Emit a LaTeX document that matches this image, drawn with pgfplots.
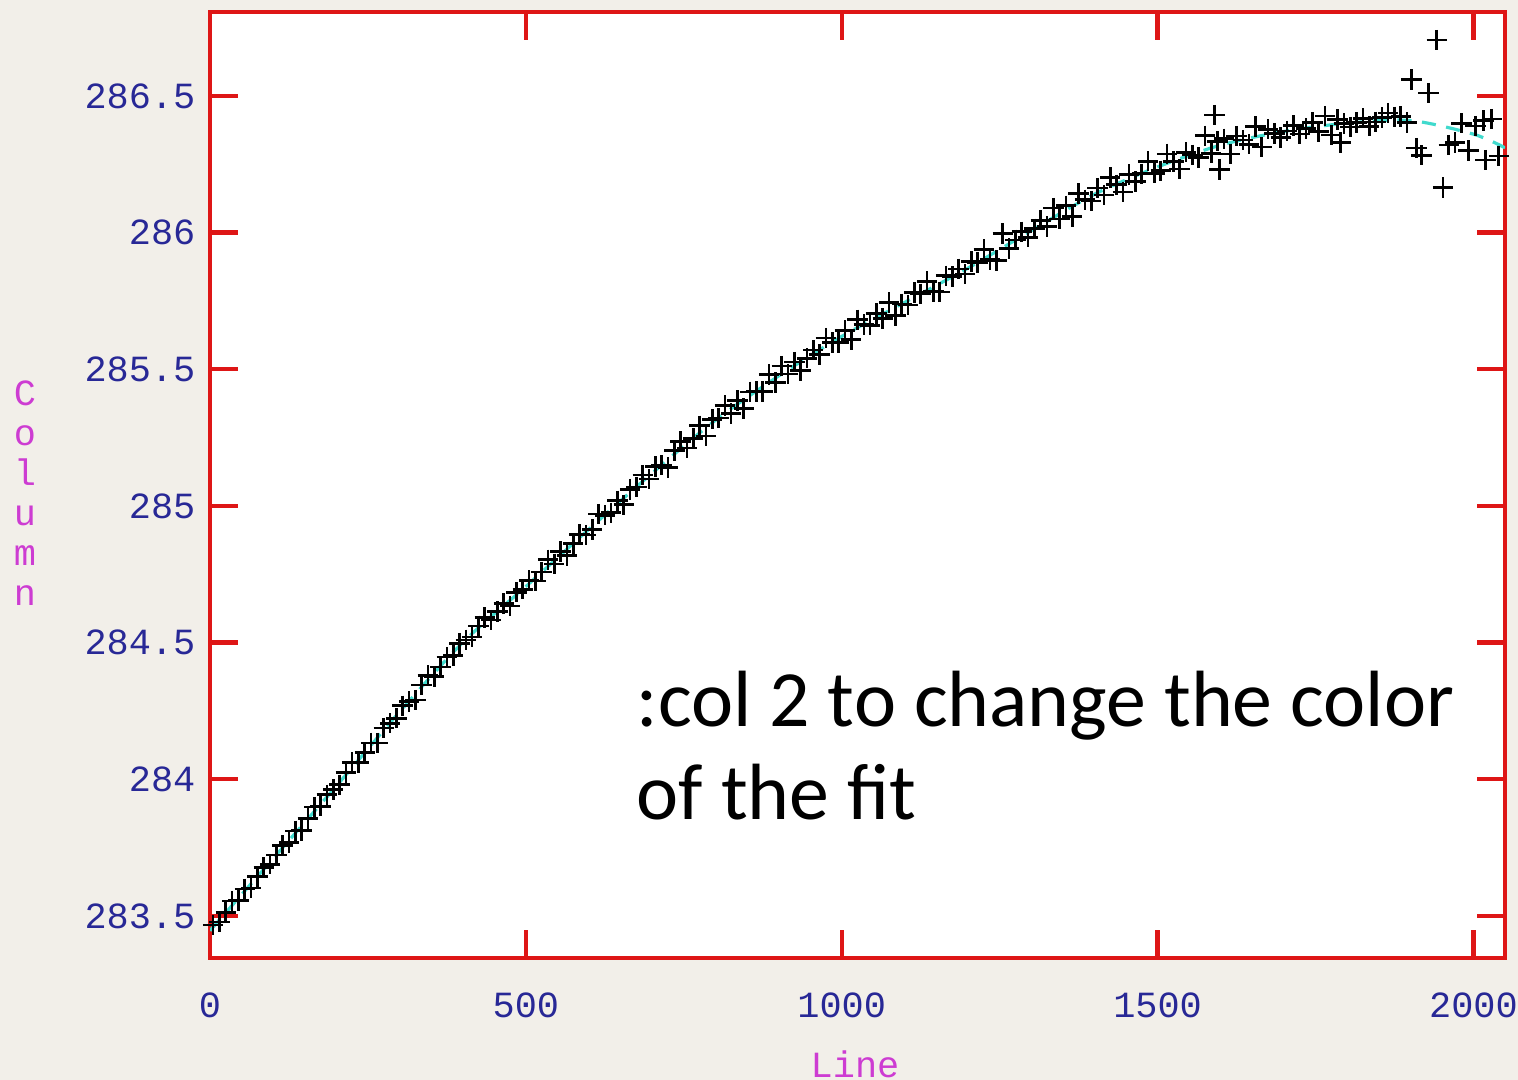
\documentclass[border=0pt]{standalone}
\usepackage{fontspec}
\usepackage{pgfplots}
\pgfplotsset{compat=1.18}
\newfontfamily\irafmono{Liberation Mono}
\newfontfamily\calib{Carlito}
\definecolor{bgc}{RGB}{242,239,233}
\definecolor{iraf red}{RGB}{222,22,22}
\definecolor{iraf blue}{RGB}{40,40,150}
\definecolor{iraf mag}{RGB}{205,60,210}
\definecolor{fitc}{RGB}{64,218,205}
\begin{document}
\begin{tikzpicture}[x=1cm,y=1cm]
\fill[bgc] (0,0) rectangle (15.18,10.80);
\useasboundingbox (0,0) rectangle (15.18,10.80);
\begin{axis}[
  at={(2.10cm,1.22cm)}, anchor=south west,
  scale only axis, width=12.95cm, height=9.46cm,
  xmin=0, xmax=2050, ymin=283.346, ymax=286.807,
  axis background/.style={fill=white},
  axis line style={iraf red, line width=1.2pt},
  tick style={iraf red, line width=1.2pt},
  tick align=inside, major tick length=0.28cm,
  xtick={0,500,1000,1500,2000},
  xticklabels={0,500,1000,1500,2000},
  ytick={283.5,284,284.5,285,285.5,286,286.5},
  yticklabels={283.5,284,284.5,285,285.5,286,286.5},
  minor tick num=0,
  xticklabel style={font={\irafmono\fontsize{10.5}{12}\selectfont}, text=iraf blue, inner sep=0pt, anchor=north, yshift=-0.34cm},
  yticklabel style={font={\irafmono\fontsize{10.5}{12}\selectfont}, text=iraf blue, inner sep=0pt, anchor=east, xshift=-0.14cm},
  clip=true,
]
\addplot[only marks, mark=+, mark size=2.9pt, mark options={line width=0.75pt, black}] table {
x y
5 283.467
15 283.478
25 283.512
35 283.554
45 283.557
55 283.599
65 283.602
75 283.644
85 283.678
95 283.689
105 283.723
115 283.758
125 283.768
135 283.811
145 283.813
155 283.856
165 283.898
175 283.901
185 283.943
195 283.962
205 283.980
215 284.025
225 284.061
235 284.061
245 284.097
255 284.133
265 284.133
275 284.187
285 284.205
295 284.223
305 284.269
315 284.284
325 284.290
335 284.345
345 284.380
355 284.376
365 284.411
375 284.447
385 284.452
395 284.497
405 284.510
415 284.521
425 284.561
435 284.592
445 284.582
455 284.613
465 284.643
475 284.634
485 284.684
495 284.695
505 284.728
515 284.725
525 284.758
535 284.803
545 284.788
555 284.833
565 284.818
575 284.863
585 284.896
595 284.893
605 284.913
615 284.970
625 284.966
635 284.975
645 285.019
655 285.004
665 285.060
675 285.069
685 285.113
695 285.098
705 285.144
715 285.149
725 285.140
735 285.202
745 285.235
755 285.212
765 285.246
775 285.293
785 285.256
795 285.317
805 285.321
815 285.367
825 285.338
835 285.385
845 285.356
855 285.417
865 285.418
875 285.419
885 285.481
895 285.452
905 285.512
915 285.482
925 285.526
935 285.496
945 285.540
955 285.570
965 285.554
975 285.614
985 285.598
995 285.598
1005 285.641
1015 285.609
1025 285.681
1035 285.664
1045 285.661
1055 285.704
1065 285.686
1075 285.744
1085 285.696
1095 285.739
1105 285.735
1115 285.780
1125 285.776
1135 285.821
1145 285.785
1155 285.782
1165 285.842
1175 285.839
1185 285.867
1195 285.848
1205 285.894
1215 285.891
1225 285.938
1235 285.901
1245 285.898
1255 285.996
1265 285.942
1275 285.973
1285 286.003
1295 285.983
1305 286.014
1315 286.045
1325 286.022
1335 286.090
1345 286.049
1355 286.098
1365 286.058
1375 286.143
1385 286.120
1395 286.115
1405 286.163
1415 286.137
1425 286.201
1435 286.175
1445 286.149
1455 286.213
1465 286.187
1475 286.215
1485 286.261
1495 286.217
1505 286.226
1515 286.288
1525 286.260
1535 286.232
1545 286.294
1555 286.284
1565 286.274
1575 286.354
1585 286.290
1590 286.430
1595 286.334
1598 286.230
1605 286.343
1615 286.288
1625 286.353
1635 286.338
1645 286.323
1655 286.388
1665 286.313
1675 286.378
1685 286.363
1695 286.348
1705 286.372
1715 286.392
1725 286.360
1735 286.381
1745 286.402
1755 286.369
1765 286.426
1775 286.357
1785 286.414
1790 286.330
1795 286.399
1805 286.386
1815 286.402
1825 286.418
1835 286.389
1845 286.405
1855 286.421
1865 286.437
1875 286.423
1885 286.424
1895 286.403
1902 286.560
1910 286.309
1918 286.283
1929 286.510
1942 286.704
1952 286.165
1961 286.320
1971 286.330
1981 286.400
1992 286.300
2003 286.390
2016 286.410
2019 286.265
2029 286.415
2040 286.280
};
\addplot[fitc, line width=0.9pt, dash pattern=on 4pt off 3pt, smooth] coordinates {
(0,283.446) (100,283.71) (200,283.975) (300,284.246) (400,284.50) (500,284.705)
(600,284.915) (700,285.12) (800,285.313) (900,285.475) (1000,285.62) (1100,285.745)
(1200,285.87) (1300,286.007) (1400,286.14) (1500,286.24) (1600,286.32) (1700,286.37)
(1800,286.40) (1900,286.41) (2000,286.36) (2050,286.31)
};
\end{axis}
\node[align=center, text=iraf mag, font={\irafmono\fontsize{10.5}{11.4}\selectfont}] at (0.25,5.87) {C\\o\\l\\u\\m\\n};
\node[text=iraf mag, font={\irafmono\fontsize{10.5}{12}\selectfont}, inner sep=0pt] at (8.55,0.16) {Line};
\node[anchor=base west, inner sep=0pt, font={\calib\fontsize{22.7}{26.5}\selectfont}] at (6.36,3.53) {:col 2 to change the color};
\node[anchor=base west, inner sep=0pt, font={\calib\fontsize{22.7}{26.5}\selectfont}] at (6.36,2.60) {of the fit};
\end{tikzpicture}
\end{document}
